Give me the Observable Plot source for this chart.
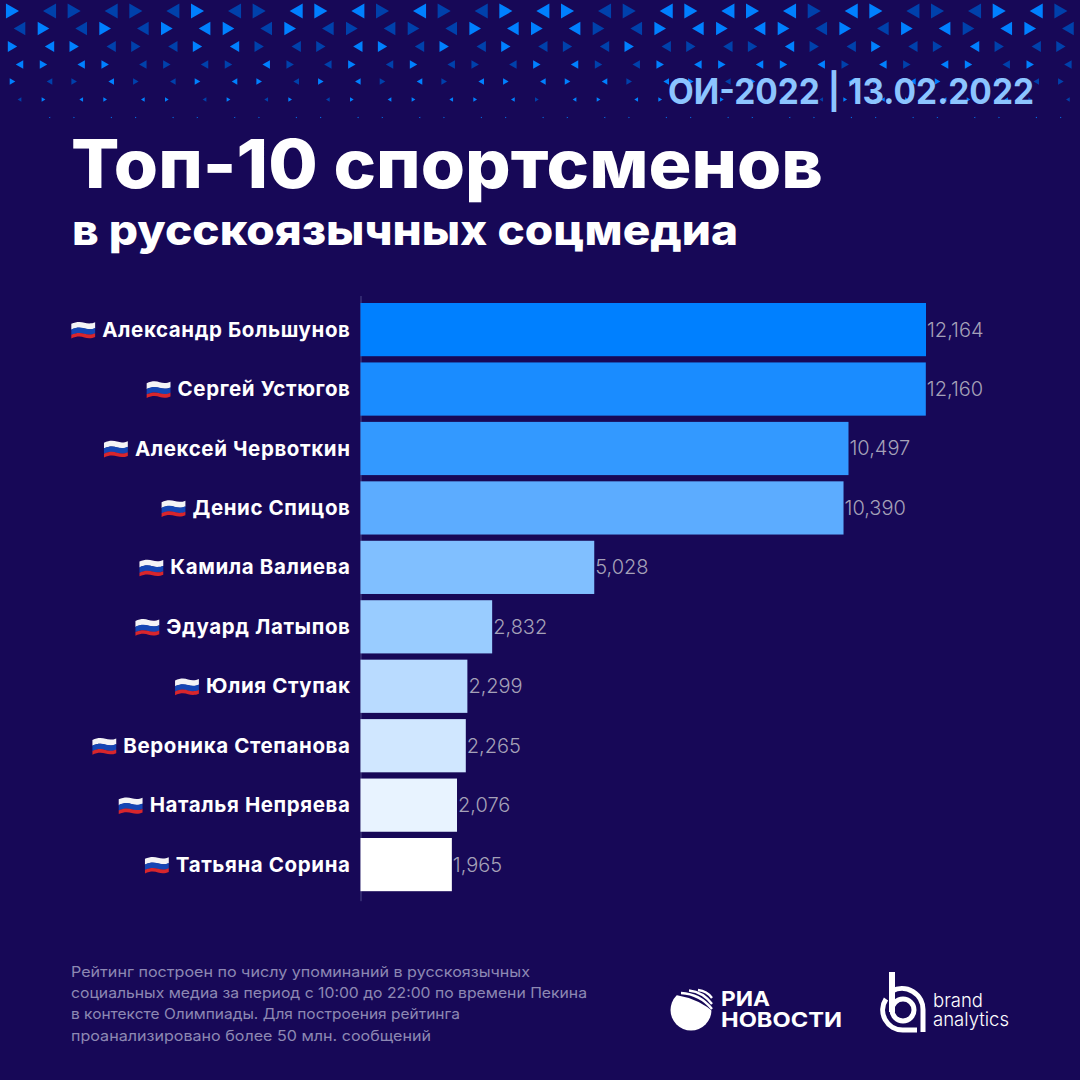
<!DOCTYPE html>
<html lang="ru">
<head>
<meta charset="utf-8">
<script src="https://cdn.jsdelivr.net/npm/d3@7"></script>
<script src="https://cdn.jsdelivr.net/npm/@observablehq/plot@0.6"></script>
<style>
html,body{margin:0;padding:0;background:#170857;}
#page{position:relative;width:1080px;height:1080px;overflow:hidden;background:#170857;font-family:Inter,"Noto Sans",sans-serif;}
#page>svg{position:absolute;left:0;top:0;}
.t{position:absolute;white-space:nowrap;line-height:0;transform-origin:0 50%;}
</style>
</head>
<body>
<div id="page"></div>
<script>
const athletes = ["Александр Большунов","Сергей Устюгов","Алексей Червоткин","Денис Спицов","Камила Валиева","Эдуард Латыпов","Юлия Ступак","Вероника Степанова","Наталья Непряева","Татьяна Сорина"];
const mentions = [12164,12160,10497,10390,5028,2832,2299,2265,2076,1965];
const barColors = ["#0080ff","#1a8cff","#3399ff","#5cacff","#80bfff","#99ccff","#b9dbff","#d0e7ff","#e8f3ff","#ffffff"];
const patternRows = [
  "bdddddbddbbbdbddbbbddbbbbbdbbdddbbd",
  "dbdbdbbbdbdddddbbbbddbbbbbdbdbbdbbd",
  "bbbdddbbdddbbdbdbdddbddddbddbddbddd",
  "bbbbddddbddbdbdddbbddbbbbbbdbdbbdbd",
  "bddbddbbbdbbdbdbbbbbdbbdbbbbdbbdbdd",
  "dbbbbbdbdbdbbbbbbdbbbbdbbbdbbbbbbdd",
  "dbbbbbbbbbbbbbbbbbbbbbbbbbbbbbbbbbb"
];
const rowY = [10.5,28,46,64,81,99,117];
const rowR = [5.6,5,4,3.2,2.4,1.6,0.6];
const flagSvg = `<svg xmlns="http://www.w3.org/2000/svg" viewBox="0 0 24 18"><path fill="#f4f4f6" d="M1 3.2C6 .8 10 1.2 13 2.2s7 1 10-.4v5.4c-3 1.4-7 1.4-10 .4S6 6.2 1 8.6z"/><path fill="#1546b4" d="M1 8.4C6 6 10 6.4 13 7.4s7 1 10-.4v5.2c-3 1.4-7 1.4-10 .4S6 11.2 1 13.6z"/><path fill="#d8262c" d="M1 13.4c5-2.4 9-2 12-1s7 1 10-.4v3.4c-3 1.4-7 1.4-10 .4s-7-1.4-12 1z"/></svg>`;
const flagSrc = "data:image/svg+xml," + encodeURIComponent(flagSvg);

const page = document.getElementById("page");

// background pattern of triangles
const triangles = patternRows.flatMap((row, r) => Array.from(row, (c, i) => {
  const odd = r % 2 === 1;
  const pairStart = odd ? 19 : 12;
  const pairGap = odd ? 24 : 37;
  const k = Math.floor(i / 2);
  const center = pairStart + 61.67 * k + (i % 2 ? pairGap : 0);
  const pointsRight = odd ? i % 2 === 1 : i % 2 === 0;
  const dir = pointsRight ? 1 : -1;
  return {x: center - dir * rowR[r] * 0.39, y: rowY[r], rotate: dir * 90, fill: c === "b" ? "#0080ff" : "#0041ab", row: r, i};
})).filter(d => !(d.row === 6 && d.i === 0));

const pattern = Plot.plot({
  width: 1080, height: 130, margin: 0,
  style: {background: "transparent"},
  x: {type: "identity", axis: null}, y: {type: "identity", axis: null},
  marks: rowY.map((_, r) => Plot.dot(triangles.filter(d => d.row === r), {
    x: "x", y: "y", r: rowR[r], symbol: "triangle", rotate: "rotate", fill: "fill"
  }))
});
page.appendChild(pattern);

// name label metrics
const nameFont = "700 20.5px Inter";
const nameSpacing = 0.6;
const ctx = document.createElement("canvas").getContext("2d");
ctx.font = nameFont;
ctx.letterSpacing = nameSpacing + "px";
const nameWidth = n => ctx.measureText(n).width;

const chart = Plot.plot({
  width: 1080, height: 1080,
  marginLeft: 360.5, marginRight: 154, marginTop: 303, marginBottom: 188.8,
  style: {background: "transparent", fontFamily: "Inter"},
  x: {domain: [0, 12164], axis: null},
  y: {domain: athletes, paddingInner: 0.105, paddingOuter: 0, round: false, axis: null},
  marks: [
    Plot.ruleX([0], {stroke: "#4d4788", strokeWidth: 1, insetTop: -7, insetBottom: -10}),
    Plot.barX(mentions, {x: d => d, y: (d, i) => athletes[i], fill: (d, i) => barColors[i]}),
    Plot.text(mentions, {x: d => d, y: (d, i) => athletes[i], text: d => d3.format(",")(d), dx: 0.5, textAnchor: "start", fontSize: 20, fontWeight: 300, fill: "#a5a1b8"}),
    Plot.text(athletes, {x: () => 0, y: d => d, text: d => d, dx: -10.5, textAnchor: "end", fontSize: 20.5, fontWeight: 700, fill: "#fff", className: "names"}),
    ...athletes.map(n => Plot.image([n], {x: () => 0, y: d => d, src: flagSrc, width: 26, height: 20, dx: -10.5 - nameWidth(n) - 6 - 13}))
  ]
});
chart.querySelectorAll("g.names text").forEach(t => { t.style.letterSpacing = nameSpacing + "px"; });
page.appendChild(chart);

// logos
const bg = "#170857";
const logos = d3.create("svg").attr("width", 1080).attr("height", 1080).attr("viewBox", "0 0 1080 1080").style("pointer-events", "none");
const ria = logos.append("g");
ria.append("circle").attr("cx", 691).attr("cy", 1010).attr("r", 20.5).attr("fill", "#fff");
ria.append("path").attr("d", "M668 985 H716 V1014 Q700 999 676 995 Z").attr("fill", bg);
ria.append("path").attr("d", "M681 993 Q700 994 712 1009 M689 990.5 Q703 992 712 1004 M698 990 Q707 991 712 998").attr("fill", "none").attr("stroke", "#fff").attr("stroke-width", 2.3);
const baMark = logos.append("g").attr("fill", "none").attr("stroke", "#fff").attr("stroke-width", 5);
baMark.append("circle").attr("cx", 903).attr("cy", 1010).attr("r", 11);
baMark.append("path").attr("d", "M892 972 V1012").attr("stroke-width", 6);
baMark.append("path").attr("d", "M892 991 A 21 21 0 0 1 923 1010 V1032");
baMark.append("path").attr("d", "M886 999 A 20 20 0 0 0 903 1030 H917");
page.appendChild(logos.node());

// text blocks
const footColor = "#8d88b3";
const textBlocks = [
  {s: "ОИ-2022 | 13.02.2022", x: 668, b: 104, w: 366, size: 35, weight: 700, color: "#8cc4ff"},
  {s: "Топ-10 спортсменов", x: 71, b: 188.5, w: 752, size: 67, weight: 800, color: "#fff"},
  {s: "в русскоязычных соцмедиа", x: 72, b: 245, w: 666, size: 42, weight: 800, color: "#fff"},
  {s: "Рейтинг построен по числу упоминаний в русскоязычных", x: 71, b: 977.5, w: 459, size: 14.5, weight: 400, color: footColor},
  {s: "социальных медиа за период с 10:00 до 22:00 по времени Пекина", x: 71, b: 998, w: 516, size: 14.5, weight: 400, color: footColor},
  {s: "в контексте Олимпиады. Для построения рейтинга", x: 71, b: 1019, w: 389, size: 14.5, weight: 400, color: footColor},
  {s: "проанализировано более 50 млн. сообщений", x: 71, b: 1041, w: 360, size: 14.5, weight: 400, color: footColor},
  {s: "РИА", x: 721, b: 1006, w: 49, size: 20, weight: 700, color: "#fff"},
  {s: "НОВОСТИ", x: 721, b: 1027, w: 121, size: 20, weight: 700, color: "#fff"},
  {s: "brand", x: 933, b: 1008, w: 50, size: 19, weight: 300, color: "#fff"},
  {s: "analytics", x: 933, b: 1027, w: 76, size: 19, weight: 300, color: "#fff"}
];
for (const d of textBlocks) {
  const el = document.createElement("div");
  el.className = "t";
  el.textContent = d.s;
  el.style.cssText = `left:${d.x}px;top:${d.b - 0.363 * d.size}px;font-size:${d.size}px;font-weight:${d.weight};color:${d.color};`;
  page.appendChild(el);
  const w = el.getBoundingClientRect().width;
  el.style.transform = `scaleX(${d.w / w})`;
}
</script>
</body>
</html>
